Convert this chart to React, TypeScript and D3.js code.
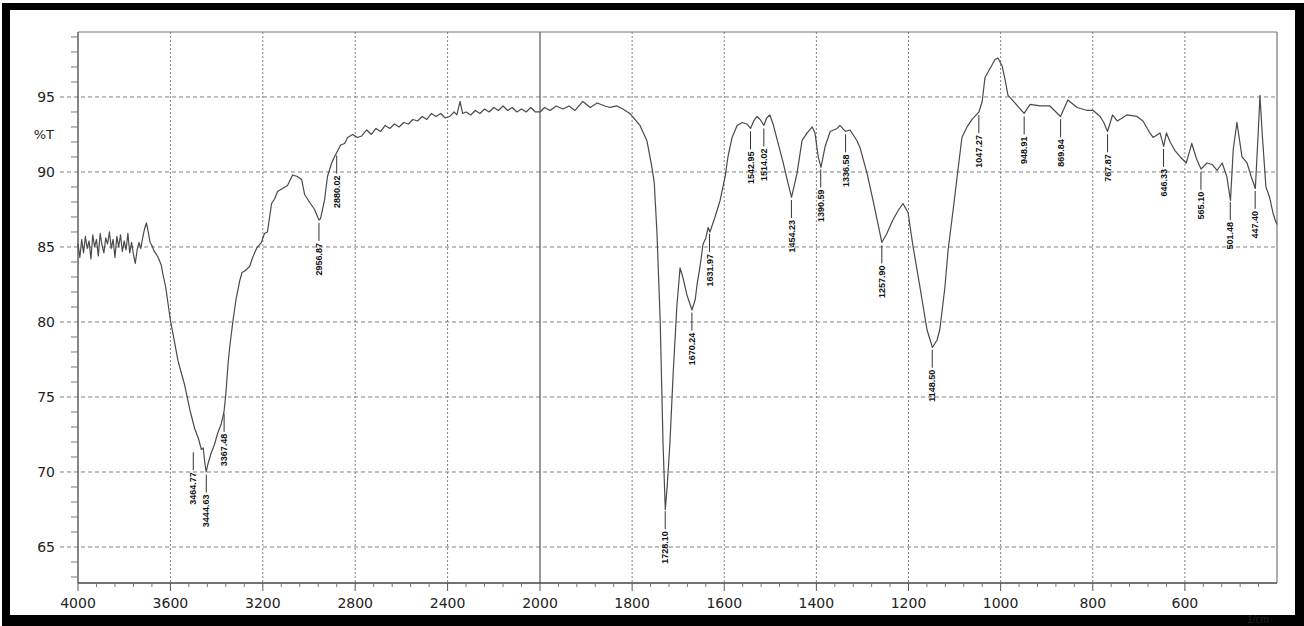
import React from 'react';
import * as d3 from 'd3';

// Spectrum data (wavenumber in 1/cm, %T)
const WAVENUMBERS = [
  4000, 3992, 3984, 3976, 3968, 3960, 3952, 3944, 3936, 3928, 3920, 3912, 3904, 3896, 3888, 3880,
  3872, 3864, 3856, 3848, 3840, 3832, 3824, 3816, 3808, 3800, 3792, 3784, 3776, 3768, 3760, 3752,
  3744, 3736, 3728, 3720, 3712, 3704, 3696, 3688, 3680, 3670, 3660, 3650, 3640, 3630, 3620, 3610,
  3600, 3585, 3567, 3540, 3515, 3495, 3478, 3466, 3458, 3451, 3445, 3438, 3425, 3410, 3395, 3380,
  3368, 3360, 3350, 3342, 3329, 3316, 3299, 3290, 3278, 3257, 3244, 3227, 3206, 3193, 3180, 3162,
  3149, 3136, 3115, 3093, 3071, 3050, 3032, 3019, 2998, 2976, 2957, 2950, 2933, 2920, 2902, 2890,
  2880, 2863, 2846, 2833, 2811, 2790, 2772, 2750, 2730, 2710, 2690, 2670, 2650, 2630, 2610, 2590,
  2570, 2550, 2530, 2510, 2490, 2470, 2450, 2430, 2410, 2390, 2372, 2360, 2346, 2335, 2320, 2300,
  2280, 2260, 2240, 2220, 2200, 2180, 2160, 2140, 2120, 2100, 2080, 2060, 2040, 2020, 2000,
  1990, 1978, 1965, 1950, 1937, 1924, 1907, 1891, 1876, 1859, 1848, 1833, 1820, 1805, 1783, 1768,
  1757, 1752, 1746, 1739, 1733, 1728, 1724, 1718, 1711, 1703, 1696, 1690, 1681, 1670, 1663, 1659,
  1653, 1646, 1640, 1635, 1631, 1620, 1609, 1598, 1592, 1583, 1572, 1561, 1551, 1543, 1536, 1529,
  1522, 1514, 1508, 1501, 1494, 1483, 1472, 1462, 1454, 1442, 1431, 1420, 1409, 1403, 1396, 1390,
  1381, 1370, 1355, 1349, 1337, 1327, 1312, 1305, 1290, 1277, 1266, 1258, 1247, 1234, 1223, 1212,
  1201, 1190, 1175, 1160, 1148, 1138, 1132, 1121, 1114, 1103, 1092, 1084, 1073, 1062, 1047, 1040,
  1034, 1023, 1012, 1006, 997, 990, 984, 969, 949, 936, 914, 893, 870, 854, 834, 812,
  799, 784, 776, 768, 757, 747, 736, 726, 704, 691, 676, 669, 654, 646, 640, 632,
  621, 610, 597, 585, 575, 565, 552, 541, 530, 519, 509, 501, 495, 487, 476, 465,
  456, 447, 441, 437, 432, 424, 416, 409, 404, 400,
];

const TRANSMITTANCE = [
  85.2, 84.3, 85.5, 84.6, 85.7, 84.9, 85.4, 84.2, 85.8, 85.0, 85.5, 84.4, 85.9, 85.1, 84.6, 85.6,
  85.2, 86.0, 84.9, 85.5, 84.3, 85.7, 85.0, 85.8, 84.7, 85.4, 84.8, 85.9, 84.6, 85.3, 84.5, 83.9,
  84.8, 85.3, 84.9, 85.6, 86.2, 86.6, 86.0, 85.3, 85.1, 84.7, 84.5, 84.2, 83.8, 83.0, 82.3, 81.2,
  80.1, 78.9, 77.4, 75.9, 74.1, 72.9, 72.2, 71.5, 71.6, 70.6, 70.0, 70.5, 71.2, 71.8, 72.6, 73.2,
  74.0, 75.2, 77.3, 78.5, 80.1, 81.5, 82.8, 83.3, 83.4, 83.7, 84.3, 84.9, 85.3, 85.9, 86.0, 87.9,
  88.2, 88.7, 88.9, 89.1, 89.8, 89.7, 89.5, 88.5, 88.0, 87.5, 86.8, 86.9, 88.1, 89.7, 90.6, 91.0,
  91.3, 91.8, 91.9, 92.3, 92.5, 92.3, 92.4, 92.8, 92.5, 92.9, 92.7, 93.1, 92.9, 93.2, 93.0, 93.3,
  93.2, 93.5, 93.4, 93.7, 93.5, 93.9, 93.7, 93.9, 93.6, 93.7, 94.0, 93.8, 94.7, 93.9, 94.0, 93.8,
  94.1, 93.9, 94.2, 94.0, 94.3, 94.1, 94.4, 94.1, 94.3, 94.0, 94.2, 94.0, 94.3, 94.0, 94.0,
  94.3, 94.1, 94.4, 94.2, 94.4, 94.1, 94.7, 94.3, 94.6, 94.4, 94.3, 94.4, 94.2, 93.9, 93.1, 92.1,
  90.3, 89.3, 85.9, 80.0, 72.0, 67.5, 69.0, 71.9, 76.5, 81.0, 83.6, 83.0, 81.8, 80.8, 81.5, 82.5,
  83.6, 85.2, 85.6, 86.3, 86.0, 87.0, 88.1, 89.7, 91.0, 92.3, 93.1, 93.3, 93.2, 92.9, 93.4, 93.7,
  93.5, 93.1, 93.6, 93.8, 93.2, 91.9, 90.6, 89.3, 88.3, 89.9, 92.1, 92.6, 93.0, 92.6, 91.0, 90.3,
  91.7, 92.7, 92.9, 93.1, 92.7, 92.8, 92.1, 91.6, 89.9, 88.1, 86.5, 85.3, 85.9, 86.8, 87.4, 87.9,
  87.3, 85.0, 82.3, 79.5, 78.3, 78.8, 79.5, 82.3, 84.8, 87.5, 90.3, 92.3, 93.0, 93.5, 94.0, 94.7,
  96.3, 96.9, 97.5, 97.6, 97.1, 96.1, 95.1, 94.6, 93.9, 94.5, 94.4, 94.4, 93.7, 94.8, 94.3, 94.1,
  94.1, 93.7, 93.3, 92.7, 93.8, 93.4, 93.6, 93.8, 93.7, 93.4, 92.6, 92.3, 92.6, 91.7, 92.6, 92.0,
  91.4, 91.0, 90.6, 91.9, 90.9, 90.2, 90.6, 90.5, 90.1, 90.6, 89.7, 88.1, 91.5, 93.3, 91.0, 90.6,
  89.7, 88.9, 92.5, 95.1, 92.5, 89.0, 88.3, 87.3, 86.8, 86.5,
];

const PEAK_WAVENUMBERS = [
  3464.77, 3444.63, 3367.48, 2956.87, 2880.02, 1728.1, 1670.24, 1631.97, 1542.95, 1514.02,
  1454.23, 1390.59, 1336.58, 1257.9, 1148.5, 1047.27, 948.91, 869.84, 767.87, 646.33,
  565.1, 501.48, 447.4,
];
const PEAK_LABELS = [
  '3464.77', '3444.63', '3367.48', '2956.87', '2880.02', '1728.10', '1670.24', '1631.97', '1542.95', '1514.02',
  '1454.23', '1390.59', '1336.58', '1257.90', '1148.50', '1047.27', '948.91', '869.84', '767.87', '646.33',
  '565.10', '501.48', '447.40',
];

const X_TICKS = [4000, 3600, 3200, 2800, 2400, 2000, 1800, 1600, 1400, 1200, 1000, 800, 600];
const X_GRID = [3600, 3200, 2800, 2400, 1800, 1600, 1400, 1200, 1000, 800, 600];
const Y_TICKS = [65, 70, 75, 80, 85, 90, 95];

const W = 1304;
const H = 626;
const L = 78;
const R = 1277;
const T = 32;
const B = 583;
const FONT = "'DejaVu Sans', 'Liberation Sans', Arial, sans-serif";
const LFONT = "'Liberation Sans', Arial, sans-serif";

export default function App() {
  const x = d3.scaleLinear().domain([4000, 2000, 400]).range([L, 540, R]);
  const y = d3.scaleLinear().domain([62.6, 99.33]).range([B, T]);
  const tAt = d3.scaleLinear().domain(WAVENUMBERS).range(TRANSMITTANCE);

  const pts = WAVENUMBERS.map((w, i) => [w, TRANSMITTANCE[i]] as [number, number]);
  const line = d3
    .line<[number, number]>()
    .x((d) => x(d[0]))
    .y((d) => y(d[1]));

  const minorX = [...d3.range(4000, 2000, -80), ...d3.range(2000, 400, -40)].filter(
    (v) => !X_TICKS.includes(v)
  );
  const minorY = d3.range(63, 100, 1).filter((v) => v % 5 !== 0);

  // label positions with simple collision nudging (right to left)
  const px = PEAK_WAVENUMBERS.map((w) => x(w));
  const lx = px.slice();
  const minSep = 13;
  for (let i = lx.length - 2; i >= 0; i--) {
    if (lx[i + 1] - lx[i] < minSep) lx[i] = lx[i + 1] - minSep;
  }

  return (
    <svg
      width={W}
      height={H}
      style={{ position: 'absolute', left: 0, top: 0, background: '#fff' }}
    >
      <rect x={0} y={0} width={W} height={H} fill="#fff" />
      <rect x={2} y={3} width={W - 2} height={H - 3} fill="#000" />
      <rect x={10} y={10} width={1285} height={605} fill="#fff" />

      {/* horizontal grid */}
      {Y_TICKS.map((v) => (
        <line
          key={'hg' + v}
          x1={60}
          x2={R}
          y1={y(v)}
          y2={y(v)}
          stroke="#808080"
          strokeWidth={1}
          strokeDasharray="4,3"
        />
      ))}
      {/* vertical grid */}
      {X_GRID.map((v) => (
        <line
          key={'vg' + v}
          x1={x(v)}
          x2={x(v)}
          y1={T}
          y2={B}
          stroke="#808080"
          strokeWidth={1}
          strokeDasharray="2,2"
        />
      ))}
      {/* break line at 2000 */}
      <line x1={x(2000)} x2={x(2000)} y1={T} y2={B} stroke="#555" strokeWidth={1.2} />

      {/* frame */}
      <line x1={L} x2={R} y1={T} y2={T} stroke="#777" strokeWidth={1.2} />
      <line x1={R} x2={R} y1={T} y2={B} stroke="#777" strokeWidth={1.2} />
      <line x1={L} x2={L} y1={T} y2={B} stroke="#444" strokeWidth={1.3} />
      <line x1={L} x2={R} y1={B} y2={B} stroke="#444" strokeWidth={1.3} />

      {/* y minor ticks */}
      {minorY.map((v) => (
        <line key={'my' + v} x1={L - 7} x2={L} y1={y(v)} y2={y(v)} stroke="#777" strokeWidth={1} />
      ))}
      {/* x ticks */}
      {X_TICKS.map((v) => (
        <line key={'xt' + v} x1={x(v)} x2={x(v)} y1={B} y2={B + 8} stroke="#555" strokeWidth={1} />
      ))}
      {minorX.map((v) => (
        <line key={'mx' + v} x1={x(v)} x2={x(v)} y1={B} y2={B + 4} stroke="#777" strokeWidth={1} />
      ))}

      {/* tick labels */}
      {X_TICKS.map((v) => (
        <text
          key={'xl' + v}
          x={x(v)}
          y={608}
          textAnchor="middle"
          fontFamily={FONT}
          fontSize={14}
          fill="#222"
        >
          {v}
        </text>
      ))}
      {Y_TICKS.map((v) => (
        <text
          key={'yl' + v}
          x={55}
          y={y(v)}
          dy="0.36em"
          textAnchor="end"
          fontFamily={FONT}
          fontSize={14}
          fill="#222"
        >
          {v}
        </text>
      ))}
      <text x={54} y={y(92.5)} dy="0.36em" textAnchor="end" fontFamily={FONT} fontSize={13} fill="#222">
        %T
      </text>
      <text x={1258} y={623} textAnchor="middle" fontFamily={LFONT} fontSize={10} fill="#222">
        1/cm
      </text>

      {/* spectrum */}
      <path d={line(pts) || ''} fill="none" stroke="#4a4a4a" strokeWidth={1.2} strokeLinejoin="round" />

      {/* peak labels */}
      {PEAK_WAVENUMBERS.map((w, i) => {
        const py = y(tAt(w));
        const xx = lx[i];
        return (
          <g key={'pk' + i}>
            <line x1={xx} x2={xx} y1={py + 3} y2={py + 21} stroke="#333" strokeWidth={1} />
            <text
              transform={`translate(${xx},${py + 23}) rotate(-90)`}
              textAnchor="end"
              dy="0.35em"
              fontFamily={LFONT}
              fontSize={9}
              fontWeight="bold"
              fill="#111"
            >
              {PEAK_LABELS[i]}
            </text>
          </g>
        );
      })}
    </svg>
  );
}
